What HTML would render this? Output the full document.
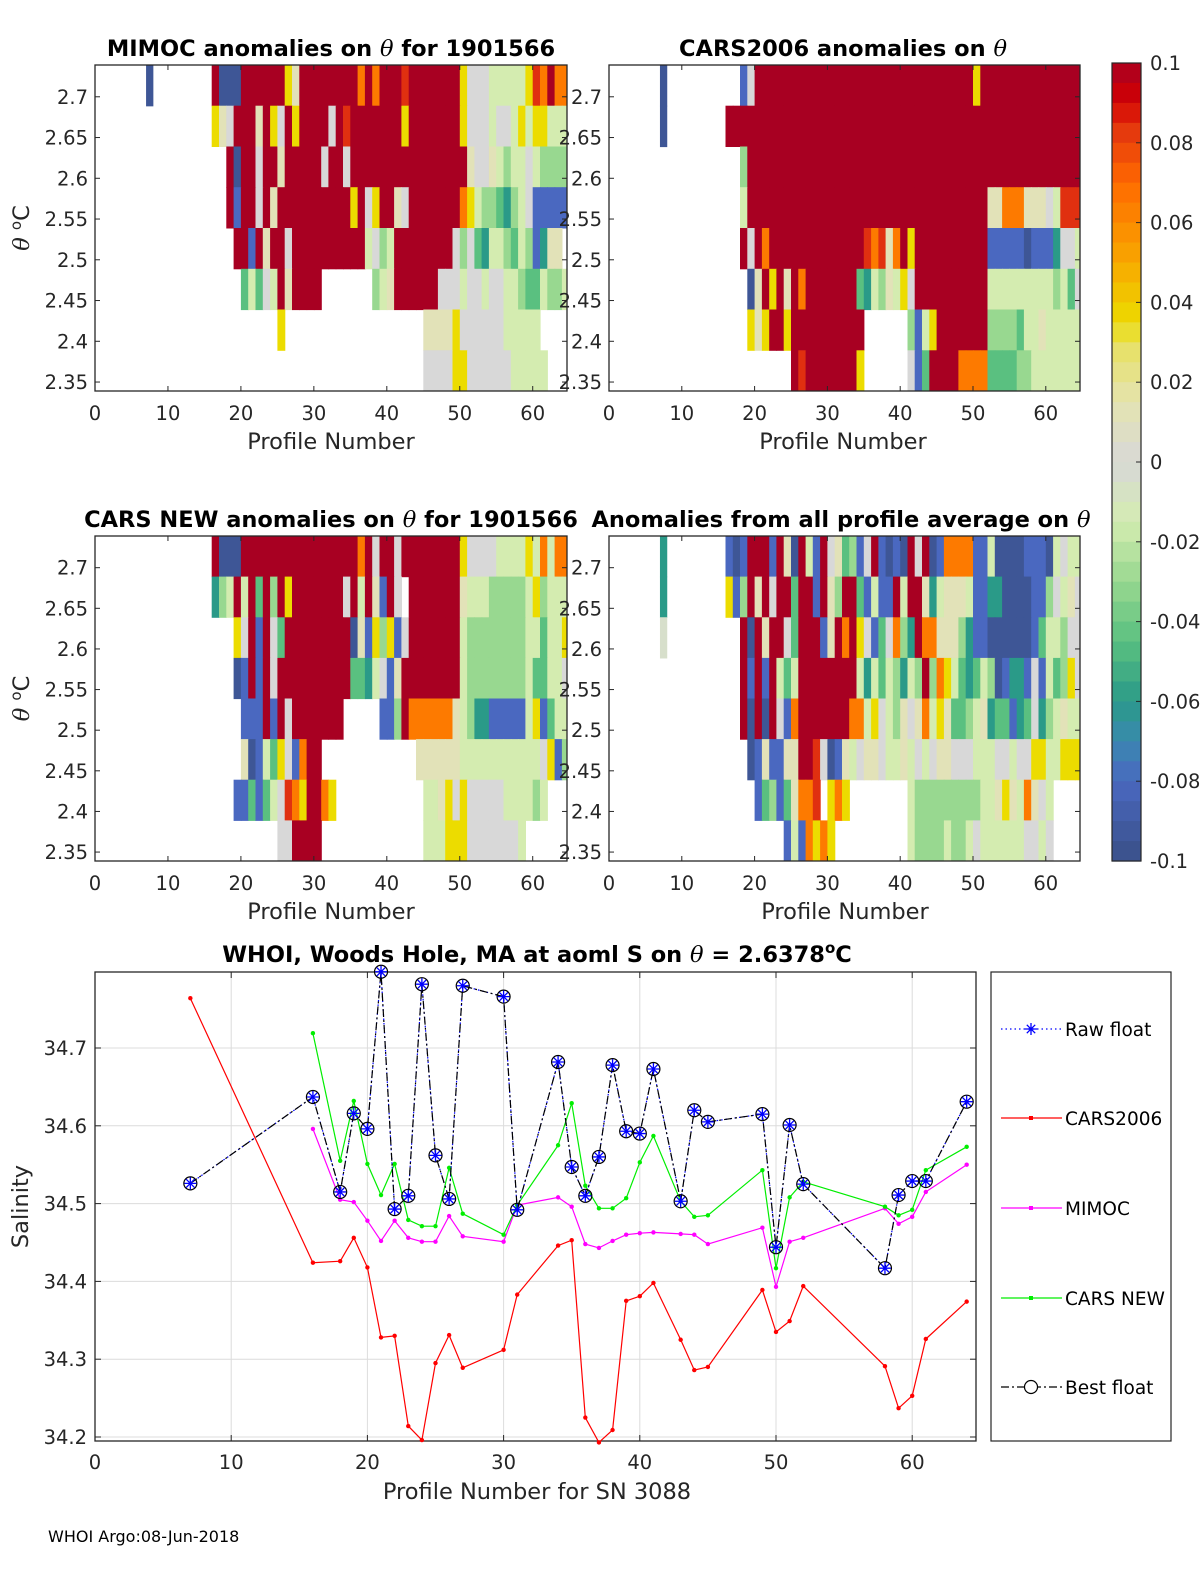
<!DOCTYPE html>
<html><head><meta charset="utf-8">
<style>
html,body{margin:0;padding:0;background:#fff;}
svg{display:block;font-family:"DejaVu Sans","Liberation Sans",sans-serif;}
.tk{font-size:19.5px;fill:#262626;}
.al{font-size:22.5px;fill:#262626;}
.tt{font-size:22.5px;font-weight:bold;fill:#000;}
</style></head>
<body>
<svg id="fig" width="1200" height="1575" viewBox="0 0 1200 1575" xmlns="http://www.w3.org/2000/svg"></svg>
<script>
// ---------- heatmap data (rows top→bottom, chars = profiles 16..64) ----------
const codeValues = {R:0.1,r:0.085,o:0.065,y:0.035,c:0.012,g:0,l:-0.015,m:-0.03,n:-0.045,t:-0.06,b:-0.08,B:-0.095};
const firstProfile = 16;
const mimocRows = [
"RBBBRRRRRRycRRRRRRRRoRoRRRrRRRRRRRyggglllllyroRoo",
"ycgRRRcRygRyRRRRgRrRRRRRRRyRRRRRRRyggglgglylyylll",
"..RBRRgRRcRRRRRgRRgRRRRRRRRRRRRRRRRcggclmllglmmmm",
"..RbRRgRcRRRRRRRRRRyRgyRRcgRRRRRRRoylmmntmlgbbbbb",
"...RRbRcRRgRRRRRRRRRRlgmlRRRRRRRRgmgntllmnlmbtcc",
"....nlnglRcRRRR.......mlcRRRRRRggglgglggllmnnlmml",
".........y...................ccccygggggglllll....",
".............................ggggyygggggglllll..."];
const mimocCol7 = [-0.095,null,null,null,null,null,null,null];
const cars06Rows = [
"..bgRRRRRRRRRRRRRRRRRRRRRRRRRRRRRRyRRRRRRRRRRRRRR",
"RRRRRRRRRRRRRRRRRRRRRRRRRRRRRRRRRRRRRRRRRRRRRRRRR",
"..mRRRRRRRRRRRRRRRRRRRRRRRRRRRRRRRRRRRRRRRRRRRRRR",
"..lRRRRRRRRRRRRRRRRRRRRRRRRRRRRRRRRRccooocccglrrr",
"..RgRoRRRRRRRRRRRRRrorcoRyRRRRRRRRRRbbbbbBbbbtggl",
"...BcRyRcRoRRRRRRRntlmclygRRRRRRRRRRlllllllllmlng",
"...ycyRRyRRRRRRRRRR......mblyRRRRRRRmmmmnllclllll",
".........RrRRRRRRRy......gbnRRRRoooonnnnmmlllllll"];
const cars06Col7 = [-0.095,-0.095,null,null,null,null,null,null];
const carsNewRows = [
"RBBBRRRRRRRRRRRRRRRRoRgRRgRRRRRRRRyggggllllyloloo",
"tmlRlRnRmRyRRRRRRRgRlRcbRg.RRRRRRRclllmmmmmlymlll",
"...ygRbRgnRRRRRRRRRBcbymybgRRRRRRRlmmmmmmmmllnlly",
"...BbRbRgRRRRRRRRRRnntlgbcRRRRRRRRlmmmmmmmmlnnllg",
"....bbbRbRgRRRRRRR.....bbmRooooooclmttbbbbblybnll",
"....cBblnygboRR.............cccccclllllllllllgybmm",
"...bbnbnlgroyRRoy............llcygygggggllllml....",
".........ggRRRR..............lllyyygggggggl......"];
const carsNewCol7 = [null,null,null,null,null,null,null,null];
const avgRows = [
"bBbRRRbRcBRlbRgcnmbgRbBbBRgRBboooobblBBBBbbbBlgll",
"ybmRcRgRRnRRbRcmRRnblbbRlRRctlccclbbttBBBBbbmglcg",
"..RBRcRRgnRRRbcRoRygbngomtRoocccmtbbBBBBBBbnllmgg",
"..RbRbRlnlRRRRRRRRltlnlmtlmRmoylntnlmBbttbgblnmyg",
"..RBRBRgboRRRRRRRoolyglmcgcolycnnmlctnnbtngtmlcll",
"...BbcbbccRRrgBbclgccgllclglgccggglllgglggyyllyyyy",
"....bnmbncoorOyoy........lmmmmmmmmmllcyclocgl....",
"........blboyoy..........lmmmmlmmlgllllllgglg...."];
const avgCol7 = [-0.06,-0.06,-0.005,null,null,null,null,null];

// ---------- line chart data ----------
const profiles = [7,16,18,19,20,21,22,23,24,25,26,27,30,31,34,35,36,37,38,39,40,41,43,44,45,49,50,51,52,58,59,60,61,64];
const bestFloat = [34.526,34.637,34.515,34.616,34.596,34.798,34.493,34.51,34.782,34.562,34.506,34.78,34.766,34.492,34.682,34.547,34.51,34.56,34.678,34.593,34.59,34.673,34.503,34.62,34.605,34.615,34.444,34.601,34.525,34.417,34.511,34.529,34.529,34.631];
const cars2006 = [34.764,34.424,34.426,34.456,34.418,34.328,34.33,34.214,34.196,34.295,34.331,34.289,34.312,34.383,34.446,34.453,34.225,34.193,34.209,34.375,34.381,34.398,34.325,34.286,34.29,34.389,34.335,34.349,34.394,34.291,34.237,34.253,34.326,34.374];
const mimocSal = [null,34.596,34.505,34.502,34.478,34.452,34.478,34.456,34.451,34.451,34.484,34.458,34.451,34.498,34.508,34.496,34.448,34.443,34.452,34.46,34.462,34.463,34.461,34.46,34.448,34.469,34.393,34.451,34.456,34.494,34.474,34.483,34.515,34.55];
const carsNewSal = [null,34.719,34.555,34.632,34.551,34.511,34.551,34.479,34.471,34.471,34.546,34.487,34.46,34.498,34.575,34.629,34.523,34.494,34.494,34.507,34.553,34.587,34.503,34.483,34.485,34.543,34.417,34.508,34.528,34.496,34.485,34.492,34.543,34.573];
const salTicks = [34.2,34.3,34.4,34.5,34.6,34.7];
const profTicks = [0,10,20,30,40,50,60];
const thetaTicks = [2.35,2.4,2.45,2.5,2.55,2.6,2.65,2.7];
const cbTicks = [-0.1,-0.08,-0.06,-0.04,-0.02,0,0.02,0.04,0.06,0.08,0.1];

const NS='http://www.w3.org/2000/svg';
const svg=document.getElementById('fig');
function el(tag,attrs,parent,text){const e=document.createElementNS(NS,tag);for(const k in attrs)e.setAttribute(k,attrs[k]);if(text!==undefined)e.textContent=text;(parent||svg).appendChild(e);return e;}

const cmapStops=[[-0.1,[58,80,136]],[-0.08,[74,104,192]],[-0.07,[58,136,176]],[-0.06,[42,154,136]],[-0.045,[90,192,128]],[-0.03,[152,216,144]],[-0.015,[212,236,176]],[0,[216,216,216]],[0.015,[228,228,176]],[0.03,[232,224,96]],[0.035,[236,220,0]],[0.05,[248,168,0]],[0.07,[255,106,0]],[0.085,[224,48,16]],[0.09,[212,0,0]],[0.1,[168,0,34]]];
function cmap(v){v=Math.max(-0.1,Math.min(0.1,v));for(let i=1;i<cmapStops.length;i++){const a=cmapStops[i-1],b=cmapStops[i];if(v<=b[0]){const t=(v-a[0])/(b[0]-a[0]);const c=a[1].map((x,j)=>Math.round(x+(b[1][j]-x)*t));return `rgb(${c[0]},${c[1]},${c[2]})`;}}return 'rgb(168,0,34)';}

const thetaTop=2.739, thetaBot=2.339, pMax=64.7;
function heatPanel(name,L,T,R,B,rows,col7,title,titleX,showYLabel,xlabX){
  const g=el('g',{},svg);
  
  
  const xs=p=>L+(p/pMax)*(R-L);
  const ys=th=>T+(thetaTop-th)/(thetaTop-thetaBot)*(B-T);
  const cid='clip-'+name;
  const cp=el('clipPath',{id:cid},g);el('rect',{x:L,y:T,width:R-L,height:B-T},cp);
  const cells=el('g',{'clip-path':`url(#${cid})`},g);
  rows.forEach((row,i)=>{
    const th0=thetaTop-0.05*i, th1=th0-0.05;
    for(let k=0;k<row.length;k++){
      const ch=row[k]; if(!(ch in codeValues)) continue;
      const p=firstProfile+k;
      const r=el('rect',{x:xs(p).toFixed(1),y:ys(th0).toFixed(1),width:(xs(p+1)-xs(p)+0.6).toFixed(1),height:(ys(th1)-ys(th0)+0.6).toFixed(1),fill:cmap(codeValues[ch])},cells);
      
      
    }
    if(col7[i]!==null){
      const r=el('rect',{x:xs(7),y:ys(th0),width:xs(8)-xs(7),height:ys(th1)-ys(th0)+0.6,fill:cmap(col7[i])},cells);
      
      
    }
  });
  el('rect',{x:L,y:T,width:R-L,height:B-T,fill:'none',stroke:'#262626','stroke-width':1.3},g);
  profTicks.forEach(p=>{const x=xs(p);el('line',{x1:x,y1:B,x2:x,y2:B-5,stroke:'#262626'},g);el('line',{x1:x,y1:T,x2:x,y2:T+5,stroke:'#262626'},g);
    const t=el('text',{x:x,y:B+29,'text-anchor':'middle',class:'tk'},g,String(p));});
  thetaTicks.forEach(th=>{const y=ys(th);el('line',{x1:L,y1:y,x2:L+5,y2:y,stroke:'#262626'},g);el('line',{x1:R,y1:y,x2:R-5,y2:y,stroke:'#262626'},g);
    const t=el('text',{x:L-7,y:y+7,'text-anchor':'end',class:'tk'},g,String(th));});
  const xl=el('text',{x:xlabX,y:B+58,'text-anchor':'middle',class:'al'},g,'Profile Number');
  
  if(showYLabel){const yl=el('text',{x:0,y:0,'text-anchor':'middle',class:'al',transform:`translate(29,${(T+B)/2}) rotate(-90)`},g);
    
    el('tspan',{'font-family':'DejaVu Serif, serif','font-style':'italic'},yl,'θ ');el('tspan',{'font-size':15,dy:-8},yl,'o');el('tspan',{dy:8},yl,'C');}
  const tt=el('text',{x:titleX,y:T-9,'text-anchor':'middle',class:'tt'},g);
  
  el('tspan',{},tt,title[0]);el('tspan',{'font-family':'DejaVu Serif, serif','font-style':'italic','font-weight':'normal'},tt,'θ');el('tspan',{},tt,title[1]);
}
heatPanel('mimoc-panel',95,65,567,391,mimocRows,mimocCol7,['MIMOC anomalies on ','  for 1901566'],331,true,331);
heatPanel('cars2006-panel',609,65,1080,391,cars06Rows,cars06Col7,['CARS2006 anomalies on ',''],843,false,843);
heatPanel('carsnew-panel',95,536,567,861,carsNewRows,carsNewCol7,['CARS NEW anomalies on ',' for 1901566'],331,true,331);
heatPanel('avg-panel',609,536,1080,861,avgRows,avgCol7,['Anomalies from all profile average on ',''],841,false,845);

(function(){
  const g=el('g',{},svg);
  
  
  const L=1112,R=1141,T=63,B=861;const n=40;
  for(let i=0;i<n;i++){const v=0.1-(i+0.5)*0.2/n;el('rect',{x:L,y:T+i*(B-T)/n,width:R-L,height:(B-T)/n+0.6,fill:cmap(v)},g);}
  el('rect',{x:L,y:T,width:R-L,height:B-T,fill:'none',stroke:'#262626','stroke-width':1.2},g);
  cbTicks.forEach(v=>{const y=T+(0.1-v)/0.2*(B-T);el('line',{x1:R,y1:y,x2:R-5,y2:y,stroke:'#262626'},g);
    const t=el('text',{x:1150,y:y+7,class:'tk'},g,v===0?'0':String(v));});
})();

(function(){
  const g=el('g',{},svg);
  
  
  const L=95,R=976,T=972,B=1441;
  const xs=p=>L+p*13.62;
  const ys=s=>1048+(34.7-s)*778;
  salTicks.forEach(s=>{el('line',{x1:L,y1:ys(s),x2:R,y2:ys(s),stroke:'#dcdcdc'},g);});
  profTicks.slice(1).forEach(p=>{el('line',{x1:xs(p),y1:T,x2:xs(p),y2:B,stroke:'#dcdcdc'},g);});
  el('rect',{x:L,y:T,width:R-L,height:B-T,fill:'none',stroke:'#262626','stroke-width':1.3},g);
  profTicks.forEach(p=>{const x=xs(p);el('line',{x1:x,y1:B,x2:x,y2:B-6,stroke:'#262626'},g);el('line',{x1:x,y1:T,x2:x,y2:T+6,stroke:'#262626'},g);
    const t=el('text',{x:x,y:B+28,'text-anchor':'middle',class:'tk'},g,String(p));});
  salTicks.forEach(s=>{const y=ys(s);el('line',{x1:L,y1:y,x2:L+6,y2:y,stroke:'#262626'},g);el('line',{x1:R,y1:y,x2:R-6,y2:y,stroke:'#262626'},g);
    const t=el('text',{x:L-8,y:y+7,'text-anchor':'end',class:'tk'},g,s.toFixed(1));});
  function series(vals,color,dash,name){
    const pts=[];profiles.forEach((p,i)=>{if(vals[i]!==null)pts.push([xs(p),ys(vals[i])]);});
    const pl=el('polyline',{points:pts.map(q=>q[0].toFixed(1)+','+q[1].toFixed(1)).join(' '),fill:'none',stroke:color,'stroke-width':1.2,'stroke-dasharray':dash||'none'},g);
    
    return pts;
  }
  series(cars2006,'#ff0000',null,'cars2006').forEach(q=>{const c=el('circle',{cx:q[0],cy:q[1],r:2.2,fill:'#ff0000'},g);});
  series(mimocSal,'#ff00ff',null,'mimoc').forEach(q=>{const c=el('circle',{cx:q[0],cy:q[1],r:2.2,fill:'#ff00ff'},g);});
  series(carsNewSal,'#00ee00',null,'cars-new').forEach(q=>{const c=el('circle',{cx:q[0],cy:q[1],r:2.2,fill:'#00ee00'},g);});
  series(bestFloat,'#0000ff','1.5,3','raw-float');
  series(bestFloat,'#000000','8,3,2,3','best-float').forEach(q=>{
    const c=el('circle',{cx:q[0],cy:q[1],r:6.5,fill:'none',stroke:'#000','stroke-width':1.2},g);
    const a=el('path',{d:`M${q[0]-6},${q[1]}h12M${q[0]},${q[1]-6}v12M${q[0]-4.2},${q[1]-4.2}l8.4,8.4M${q[0]-4.2},${q[1]+4.2}l8.4,-8.4`,stroke:'#0000ff','stroke-width':1.3},g);
  });
  const xl=el('text',{x:537,y:1499,'text-anchor':'middle',class:'al'},g,'Profile Number for SN 3088');
  const yl=el('text',{x:0,y:0,'text-anchor':'middle',class:'al',transform:`translate(28,${(T+B)/2}) rotate(-90)`},g,'Salinity');
  const tt=el('text',{x:537,y:962,'text-anchor':'middle',class:'tt'},g);
  el('tspan',{},tt,'WHOI, Woods Hole, MA at aoml S on ');el('tspan',{'font-family':'DejaVu Serif, serif','font-style':'italic','font-weight':'normal'},tt,'θ');el('tspan',{},tt,' = 2.6378');el('tspan',{'font-size':15,dy:-9},tt,'o');el('tspan',{dy:9},tt,'C');
  const lg=el('g',{},svg);
  el('rect',{x:991,y:972,width:180,height:469,fill:'#fff',stroke:'#262626','stroke-width':1.2},lg);
  const entries=[['Raw float',1029],['CARS2006',1118],['MIMOC',1208],['CARS NEW',1298],['Best float',1387]];
  entries.forEach((e,i)=>{const y=e[1];const eg=el('g',{},lg);
    if(i===0){el('line',{x1:1001,y1:y,x2:1062,y2:y,stroke:'#0000ff','stroke-dasharray':'1.5,3','stroke-width':1.2},eg);el('path',{d:`M1025,${y}h12M1031,${y-6}v12M1026.8,${y-4.2}l8.4,8.4M1026.8,${y+4.2}l8.4,-8.4`,stroke:'#0000ff','stroke-width':1.3},eg);}
    else if(i===4){el('line',{x1:1001,y1:y,x2:1062,y2:y,stroke:'#000','stroke-dasharray':'8,3,2,3','stroke-width':1.2},eg);el('circle',{cx:1031,cy:y,r:6.5,fill:'#fff',stroke:'#000','stroke-width':1.2},eg);}
    else{const c=['#ff0000','#ff00ff','#00ee00'][i-1];el('line',{x1:1001,y1:y,x2:1062,y2:y,stroke:c,'stroke-width':1.2},eg);el('rect',{x:1029,y:y-2,width:4,height:4,fill:c},eg);}
    el('text',{x:1065,y:y+7,'font-size':18.5,fill:'#000'},eg,e[0]);
  });
})();
const foot=el('text',{x:48,y:1542,'font-size':16,fill:'#000'},svg,'WHOI Argo:08-Jun-2018');


</script>
</body></html>
